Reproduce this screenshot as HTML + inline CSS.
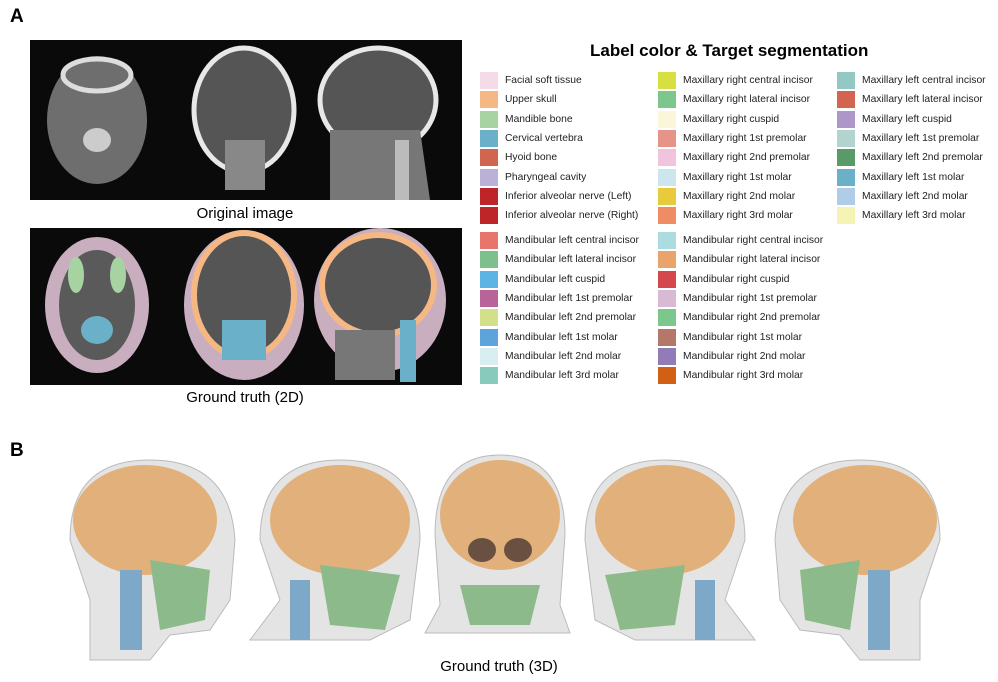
<!DOCTYPE html>
<html><head><meta charset="utf-8"><style>
body{margin:0;background:#fff;font-family:"Liberation Sans",Arial,sans-serif;}
#root{position:relative;width:998px;height:682px;overflow:hidden;background:#fff}
.t{position:absolute;white-space:nowrap}
.sw{position:absolute;width:18px;height:17px}
.lb{position:absolute;font-size:10.3px;color:#222;white-space:nowrap;line-height:17px}
</style></head><body>
<div id="root">
<div class="t" style="left:10px;top:6px;font-size:19px;font-weight:bold">A</div>
<div class="t" style="left:10px;top:440px;font-size:19px;font-weight:bold">B</div>
<svg style="position:absolute;left:0;top:0" width="998" height="682">
 <g>
  <rect x="30" y="40" width="432" height="160" fill="#0a0a0a"/>
  <ellipse cx="97" cy="120" rx="50" ry="64" fill="#6e6e6e"/>
  <ellipse cx="97" cy="75" rx="34" ry="16" fill="none" stroke="#ddd" stroke-width="5"/>
  <ellipse cx="97" cy="140" rx="14" ry="12" fill="#ccc"/>
  <ellipse cx="244" cy="110" rx="50" ry="62" fill="#555" stroke="#e8e8e8" stroke-width="5"/>
  <rect x="225" y="140" width="40" height="50" fill="#888"/>
  <ellipse cx="378" cy="100" rx="58" ry="52" fill="#555" stroke="#e8e8e8" stroke-width="5"/>
  <path d="M330 130 L420 130 L430 200 L330 200 Z" fill="#777"/>
  <rect x="395" y="140" width="14" height="60" fill="#bbb"/>
 </g>
 <g>
  <rect x="30" y="228" width="432" height="157" fill="#0a0a0a"/>
  <ellipse cx="97" cy="305" rx="52" ry="68" fill="#c9aebf"/>
  <ellipse cx="97" cy="305" rx="38" ry="55" fill="#5a5a5a"/>
  <ellipse cx="97" cy="330" rx="16" ry="14" fill="#6ab0c8"/>
  <ellipse cx="76" cy="275" rx="8" ry="18" fill="#a7d3a2"/>
  <ellipse cx="118" cy="275" rx="8" ry="18" fill="#a7d3a2"/>
  <ellipse cx="244" cy="305" rx="60" ry="75" fill="#c9aebf"/>
  <ellipse cx="244" cy="295" rx="50" ry="62" fill="#555" stroke="#f5b884" stroke-width="6"/>
  <rect x="222" y="320" width="44" height="40" fill="#6ab0c8"/>
  <ellipse cx="380" cy="300" rx="66" ry="72" fill="#c9aebf"/>
  <ellipse cx="378" cy="285" rx="56" ry="50" fill="#555" stroke="#f5b884" stroke-width="6"/>
  <rect x="400" y="320" width="16" height="62" fill="#6ab0c8"/>
  <path d="M335 330 L395 330 L395 380 L335 380 Z" fill="#777"/>
 </g>
 <g>
  <g transform="translate(150,560)">
   <path d="M-80 -20 Q-80 -100 0 -100 Q80 -100 85 -20 L80 40 L60 70 L20 75 L0 100 L-60 100 L-60 40 Z" fill="#e4e4e4" stroke="#bbb"/>
   <ellipse cx="-5" cy="-40" rx="72" ry="55" fill="#e2b07a"/>
   <path d="M0 0 L60 10 L55 60 L10 70 Z" fill="#8dba8a"/>
   <rect x="-30" y="10" width="22" height="80" fill="#7ea8c8"/>
  </g>
  <g transform="translate(340,560)">
   <path d="M-80 -20 Q-80 -100 0 -100 Q80 -100 80 -20 L70 60 L30 80 L-90 80 L-60 40 Z" fill="#e4e4e4" stroke="#bbb"/>
   <ellipse cx="0" cy="-40" rx="70" ry="55" fill="#e2b07a"/>
   <path d="M-20 5 L60 15 L45 70 L-10 65 Z" fill="#8dba8a"/>
   <rect x="-50" y="20" width="20" height="60" fill="#7ea8c8"/>
  </g>
  <g transform="translate(500,555)">
   <path d="M-65 -20 Q-65 -100 0 -100 Q65 -100 65 -20 L60 50 L70 78 L-75 78 L-60 50 Z" fill="#e4e4e4" stroke="#bbb"/>
   <ellipse cx="0" cy="-40" rx="60" ry="55" fill="#e2b07a"/>
   <ellipse cx="-18" cy="-5" rx="14" ry="12" fill="#6a5040"/>
   <ellipse cx="18" cy="-5" rx="14" ry="12" fill="#6a5040"/>
   <path d="M-40 30 L40 30 L30 70 L-30 70 Z" fill="#8dba8a"/>
  </g>
  <g transform="translate(665,560)">
   <path d="M80 -20 Q80 -100 0 -100 Q-80 -100 -80 -20 L-70 60 L-30 80 L90 80 L60 40 Z" fill="#e4e4e4" stroke="#bbb"/>
   <ellipse cx="0" cy="-40" rx="70" ry="55" fill="#e2b07a"/>
   <path d="M20 5 L-60 15 L-45 70 L10 65 Z" fill="#8dba8a"/>
   <rect x="30" y="20" width="20" height="60" fill="#7ea8c8"/>
  </g>
  <g transform="translate(860,560)">
   <path d="M80 -20 Q80 -100 0 -100 Q-80 -100 -85 -20 L-80 40 L-60 70 L-20 75 L0 100 L60 100 L60 40 Z" fill="#e4e4e4" stroke="#bbb"/>
   <ellipse cx="5" cy="-40" rx="72" ry="55" fill="#e2b07a"/>
   <path d="M0 0 L-60 10 L-55 60 L-10 70 Z" fill="#8dba8a"/>
   <rect x="8" y="10" width="22" height="80" fill="#7ea8c8"/>
  </g>
 </g>
</svg>
<div class="t" style="left:0;width:490px;text-align:center;top:205px;font-size:15px">Original image</div>
<div class="t" style="left:0;width:490px;text-align:center;top:389px;font-size:15px">Ground truth (2D)</div>
<div class="t" style="left:0;width:998px;text-align:center;top:658px;font-size:15px">Ground truth (3D)</div>
<div class="t" style="left:590px;top:41px;font-size:17px;font-weight:bold">Label color &amp; Target segmentation</div>
<div id="legend"></div>
</div>
<script>
const g1=[["Facial soft tissue","#f5dbe8"],["Upper skull","#f5b884"],["Mandible bone","#a7d3a2"],["Cervical vertebra","#6ab0c8"],["Hyoid bone","#d06550"],["Pharyngeal cavity","#bab2d6"],["Inferior alveolar nerve (Left)","#be2528"],["Inferior alveolar nerve (Right)","#be2528"]];
const g2=[["Maxillary right central incisor","#d6e040"],["Maxillary right lateral incisor","#7ec78c"],["Maxillary right cuspid","#faf6da"],["Maxillary right 1st premolar","#e69488"],["Maxillary right 2nd premolar","#f0c4dc"],["Maxillary right 1st molar","#cde6ee"],["Maxillary right 2nd molar","#e8cb3a"],["Maxillary right 3rd molar","#f08c64"]];
const g3=[["Maxillary left central incisor","#94c8c4"],["Maxillary left lateral incisor","#d26450"],["Maxillary left cuspid","#ad96c8"],["Maxillary left 1st premolar","#b3d3d0"],["Maxillary left 2nd premolar","#589a68"],["Maxillary left 1st molar","#6ab0c8"],["Maxillary left 2nd molar","#afcce8"],["Maxillary left 3rd molar","#f6f4b4"]];
const g4=[["Mandibular left central incisor","#e8756c"],["Mandibular left lateral incisor","#7ec08c"],["Mandibular left cuspid","#5cb4e4"],["Mandibular left 1st premolar","#b86498"],["Mandibular left 2nd premolar","#d3e08a"],["Mandibular left 1st molar","#5ea4dc"],["Mandibular left 2nd molar","#d9eef0"],["Mandibular left 3rd molar","#88cabc"]];
const g5=[["Mandibular right central incisor","#acdce0"],["Mandibular right lateral incisor","#e8a46a"],["Mandibular right cuspid","#d4474a"],["Mandibular right 1st premolar","#d8bad4"],["Mandibular right 2nd premolar","#7ec78c"],["Mandibular right 1st molar","#b47868"],["Mandibular right 2nd molar","#927cb8"],["Mandibular right 3rd molar","#d26014"]];
const L=document.getElementById('legend');
function add(group,x,y0){group.forEach((it,i)=>{const y=y0+i*19.3;
 const s=document.createElement('div');s.className='sw';s.style.left=x+'px';s.style.top=y+'px';s.style.background=it[1];
 
 
 const t=document.createElement('div');t.className='lb';t.style.left=(x+25)+'px';t.style.top=y+'px';t.textContent=it[0];
 
 
 L.appendChild(s);L.appendChild(t);});}
add(g1,480,72);add(g2,658,72);add(g3,837,72);add(g4,480,232);add(g5,658,232);
</script>
</body></html>
